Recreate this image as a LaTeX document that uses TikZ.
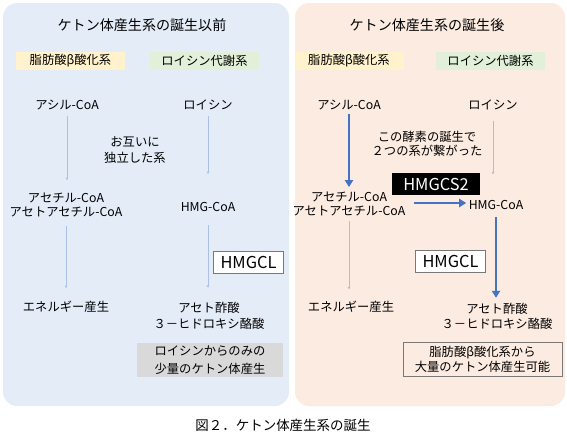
\documentclass[tikz,border=0pt]{standalone}
\usepackage{fontspec}
\setmainfont{Noto Sans CJK JP}
\usetikzlibrary{arrows.meta}

\definecolor{panelblue}{RGB}{228,236,248}
\definecolor{panelpeach}{RGB}{251,235,225}
\definecolor{tagyellow}{RGB}{255,242,204}
\definecolor{taggreen}{RGB}{226,240,217}
\definecolor{arrowblue}{RGB}{68,114,196}
\definecolor{boxgray}{RGB}{217,217,217}
\definecolor{edgegray}{RGB}{120,120,120}

\begin{document}
\begin{tikzpicture}[x=0.03cm, y=-0.03cm,
    every node/.style={font=\fontsize{10.5}{12.5}\selectfont, inner sep=2pt, align=center},
    paneltitle/.style={font=\fontsize{12}{14}\selectfont},
    tagbox/.style={minimum width=3.27cm, minimum height=0.56cm, inner sep=0pt},
    enzbox/.style={draw=edgegray, thick, fill=white, minimum width=2.1cm, minimum height=0.66cm, inner sep=0pt, font=\fontsize{14}{16}\selectfont},
    thinarr/.style={-{Latex[length=2pt,width=2.4pt]}, line width=0.3pt, arrowblue!45},
    thickarr/.style={-{Triangle[length=6pt,width=7pt]}, line width=1.8pt, arrowblue}]

    \useasboundingbox (0,0) rectangle (567,441);

    % two panels
    \fill[panelblue, rounded corners=12pt] (3,3) rectangle (289,406);
    \fill[panelpeach, rounded corners=12pt] (295,3) rectangle (565,406);

    % before
    \node[paneltitle] (ltitle) at (142,25) {ケトン体産生系の誕生以前};
    \node[tagbox, fill=tagyellow] (lfat) at (70.5,61) {脂肪酸β酸化系};
    \node[tagbox, fill=taggreen] (lleumet) at (204.5,61) {ロイシン代謝系};

    \node (lacyl) at (67,105) {アシル-CoA};
    \node (lleu) at (208,105) {ロイシン};
    \node[font=\fontsize{10.5}{13.5}\selectfont] (lindep) at (135,150) {お互いに\\独立した系};
    \node[font=\fontsize{10.5}{11.5}\selectfont] (lacetyl) at (66,205) {アセチル-CoA\\アセトアセチル-CoA};
    \node (lhmg) at (208,207) {HMG-CoA};
    \node[enzbox] (lhmgcl) at (248.5,262) {HMGCL};
    \node (lenergy) at (66,307) {エネルギー産生};
    \node[font=\fontsize{10.5}{14}\selectfont] (lketone) at (209,316) {アセト酢酸\\３－ヒドロキシ酪酸};
    \node[fill=boxgray, minimum width=4.38cm, minimum height=1.02cm, inner sep=0pt,
          font=\fontsize{10.5}{15}\selectfont] (lsmall) at (210,360) {ロイシンからのみの\\少量のケトン体産生};

    \draw[thinarr, shorten <=3pt, shorten >=9pt] (lacyl.south) -- (lacyl.south |- lacetyl.north);
    \draw[thinarr, shorten <=3pt, shorten >=22pt] (lleu.south) -- (lleu.south |- lhmg.north);
    \draw[thinarr, shorten <=6pt, shorten >=9pt] (lacetyl.south) -- (lacetyl.south |- lenergy.north);
    \draw[thinarr, shorten <=9pt, shorten >=10pt] (lhmg.south) -- (lhmg.south |- lketone.north);

    % after
    \node[paneltitle] (rtitle) at (427,25) {ケトン体産生系の誕生後};
    \node[tagbox, fill=tagyellow] (rfat) at (349,61) {脂肪酸β酸化系};
    \node[tagbox, fill=taggreen] (rleumet) at (490.5,61) {ロイシン代謝系};

    \node (racyl) at (349,105) {アシル-CoA};
    \node (rleu) at (493,105) {ロイシン};
    \node[font=\fontsize{10.5}{12}\selectfont] (rnote) at (427,144) {この酵素の誕生で\\２つの系が繋がった};
    \node[fill=black, text=white, minimum width=2.64cm, minimum height=0.66cm, inner sep=0pt,
          font=\fontsize{14}{16}\selectfont] (hmgcs) at (436,184) {HMGCS2};
    \node[font=\fontsize{10.5}{12}\selectfont] (racetyl) at (349,204) {アセチル-CoA\\アセトアセチル-CoA};
    \node (rhmg) at (496,205) {HMG-CoA};
    \node[enzbox] (rhmgcl) at (450.5,261) {HMGCL};
    \node (renergy) at (351,307) {エネルギー産生};
    \node[font=\fontsize{10.5}{13}\selectfont] (rketone) at (497,316) {アセト酢酸\\３－ヒドロキシ酪酸};
    \node[draw=edgegray, thick, minimum width=4.77cm, minimum height=1.02cm, inner sep=0pt,
          font=\fontsize{10.5}{13}\selectfont] (rlarge) at (482.5,359) {脂肪酸β酸化系から\\大量のケトン体産生可能};

    \draw[thickarr, shorten <=1pt, shorten >=2pt] (racyl.south) -- (racyl.south |- racetyl.north);
    \draw[thickarr] ([xshift=5pt]racetyl.east |- 0,203) -- (rhmg.west |- 0,203);
    \draw[thickarr, shorten <=4pt, shorten >=2pt] (rhmg.south) -- (rhmg.south |- rketone.north);
    \draw[thinarr, draw=edgegray!50, shorten <=7pt, shorten >=20pt] (rleu.south) -- (rleu.south |- rhmg.north);
    \draw[thinarr, draw=edgegray!50, shorten <=2pt, shorten >=8pt] (racetyl.south) -- (racetyl.south |- renergy.north);

    \node[font=\fontsize{11.5}{13}\selectfont] (caption) at (283,425) {図２．ケトン体産生系の誕生};
\end{tikzpicture}
\end{document}
